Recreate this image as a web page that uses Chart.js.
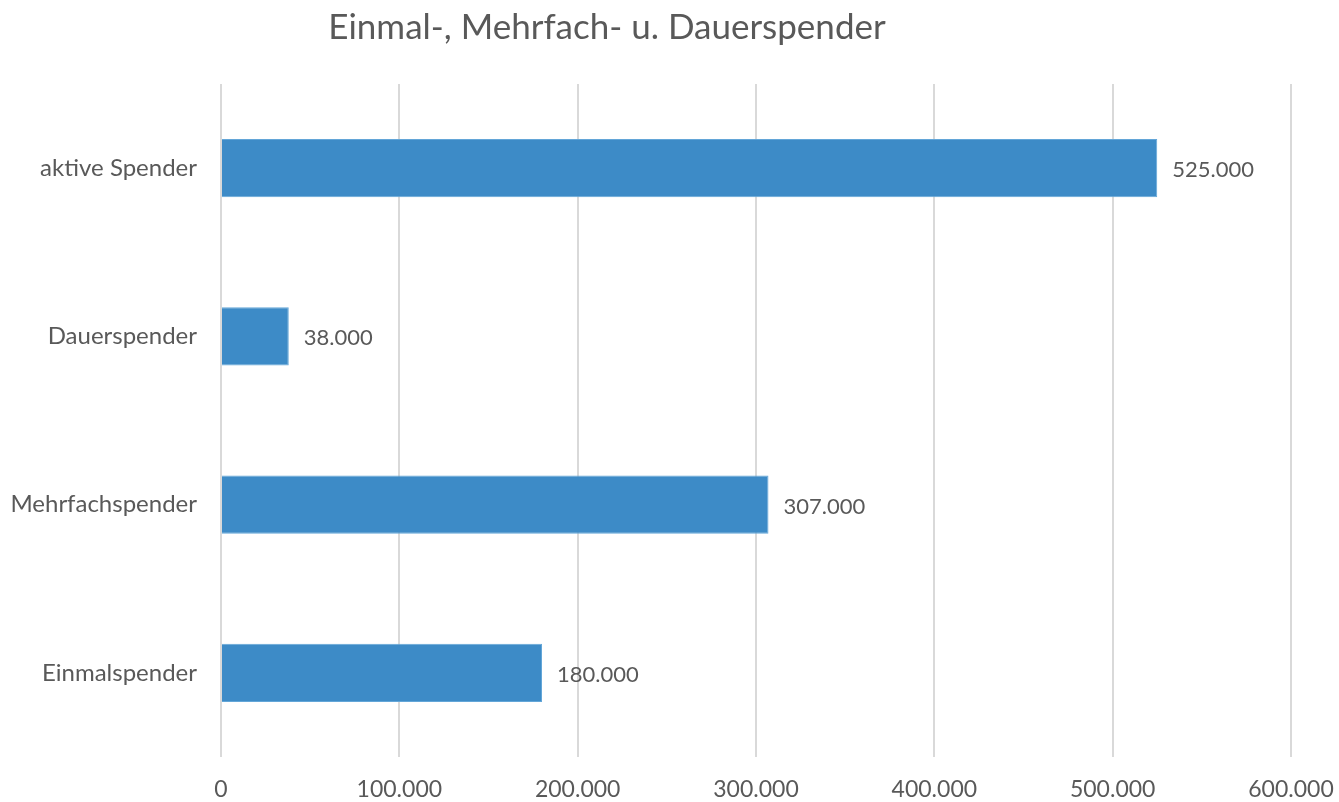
<!DOCTYPE html>
<html>
<head>
<meta charset="utf-8">
<script src="https://cdn.jsdelivr.net/npm/chart.js@4"></script>
<style>
  html, body { margin: 0; padding: 0; background: #fff; }
  #wrap { width: 1339px; height: 802px; }
</style>
</head>
<body>
<div id="wrap"><canvas id="spender-canvas"></canvas></div>
<script>
const chartTitle = "Einmal-, Mehrfach- u. Dauerspender";
const categories = ["aktive Spender", "Dauerspender", "Mehrfachspender", "Einmalspender"];
const spenderValues = [525000, 38000, 307000, 180000];
const axisMax = 600000;
const axisStep = 100000;

const textColor = "#595959";
const fontFamily = "Lato, 'Open Sans', sans-serif";

function formatDe(v) {
  return Number(v).toLocaleString("de-DE");
}

// draws the title a bit left of center, like the original
const titlePlugin = {
  id: "ownTitle",
  afterDraw(chart) {
    const c = chart.ctx;
    c.save();
    c.font = "35px " + fontFamily;
    c.fillStyle = textColor;
    c.textAlign = "center";
    c.textBaseline = "middle";
    c.fillText(chartTitle, 607, 28);
    c.restore();
  }
};

// value labels right of each bar
const valueLabels = {
  id: "valueLabels",
  afterDatasetsDraw(chart) {
    const c = chart.ctx;
    const meta = chart.getDatasetMeta(0);
    c.save();
    c.font = "22px " + fontFamily;
    c.fillStyle = textColor;
    c.textAlign = "left";
    c.textBaseline = "middle";
    meta.data.forEach(function (bar, i) {
      c.fillText(formatDe(spenderValues[i]), bar.x + 15, bar.y + 2);
    });
    c.restore();
  }
};

const ctx = document.getElementById("spender-canvas").getContext("2d");
new Chart(ctx, {
  type: "bar",
  data: {
    labels: categories,
    datasets: [{
      data: spenderValues,
      backgroundColor: "#3d8bc7",
      borderColor: "#63a6d8",
      borderWidth: 1,
      barPercentage: 0.345,
      categoryPercentage: 1
    }]
  },
  options: {
    indexAxis: "y",
    responsive: true,
    maintainAspectRatio: false,
    animation: false,
    layout: { padding: { top: 84, right: 48, left: 0, bottom: 0 } },
    plugins: {
      legend: { display: false },
      title: { display: false },
      tooltip: { enabled: false }
    },
    scales: {
      x: {
        min: 0,
        max: axisMax,
        ticks: {
          stepSize: axisStep,
          color: textColor,
          font: { family: fontFamily, size: 23 },
          padding: 19,
          callback: function (v) { return formatDe(v); }
        },
        grid: { color: "#d9d9d9", lineWidth: 2, drawTicks: false },
        border: { display: false },
        afterFit: function (scale) {
          scale.height = 45;
          scale.paddingLeft = 0;
          scale.paddingRight = 0;
        }
      },
      y: {
        ticks: {
          color: textColor,
          font: { family: fontFamily, size: 24 },
          padding: 24
        },
        grid: { display: false, drawTicks: false },
        border: { display: false },
        afterFit: function (scale) { scale.width = 221; }
      }
    }
  },
  plugins: [titlePlugin, valueLabels]
});
</script>
</body>
</html>
